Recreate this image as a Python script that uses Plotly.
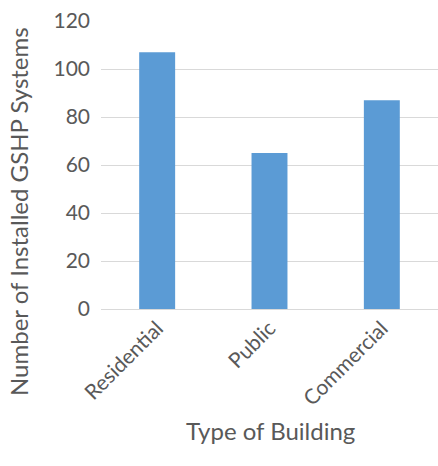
import plotly.graph_objects as go

categories = ["Residential", "Public", "Commercial"]
values = [107, 65, 87]
y_ticks = [0, 20, 40, 60, 80, 100, 120]

W, H = 438, 466
L, R, T, B = 101, 0, 21, 157
pw, ph = W - L - R, H - T - B

def px_to_paper_x(px):
    return (px - L) / pw

def px_to_paper_y(py):
    return (H - B - py) / ph

font_family = "Lato, 'Open Sans', sans-serif"
grey = "#595959"
tick_size = 21
title_size = 24

fig = go.Figure(go.Bar(x=categories, y=values, marker=dict(color="#5B9BD5", line=dict(width=0)), width=0.32))

fig.update_layout(
    width=W, height=H,
    margin=dict(l=L, r=R, t=T, b=B, autoexpand=False),
    plot_bgcolor="white", paper_bgcolor="white",
    font=dict(family=font_family, color=grey, size=tick_size),
    showlegend=False,
    xaxis=dict(tickangle=-45, showgrid=False, showline=False, ticks="", automargin=False,
               tickfont=dict(size=tick_size, color=grey), range=[-0.5, 2.5], ticklabelstandoff=2),
    yaxis=dict(range=[0, 120], tickvals=y_ticks, showgrid=True, gridcolor="#D9D9D9", gridwidth=1,
               zeroline=True, zerolinecolor="#D9D9D9", zerolinewidth=1, showline=False, ticks="",
               automargin=False, tickfont=dict(size=tick_size, color=grey), ticklabelstandoff=10),
    annotations=[
        dict(text="Number of Installed GSHP Systems", textangle=-90, xref="paper", yref="paper",
             x=px_to_paper_x(18), y=px_to_paper_y(212), showarrow=False,
             font=dict(size=title_size, color=grey, family=font_family), xanchor="center", yanchor="middle"),
        dict(text="Type of Building", xref="paper", yref="paper",
             x=px_to_paper_x(270), y=px_to_paper_y(430), showarrow=False,
             font=dict(size=title_size, color=grey, family=font_family), xanchor="center", yanchor="middle"),
    ],
)

fig.write_html("out.html", config={"displayModeBar": False},
               post_script="document.body.style.margin='0';document.body.style.overflow='hidden';")
